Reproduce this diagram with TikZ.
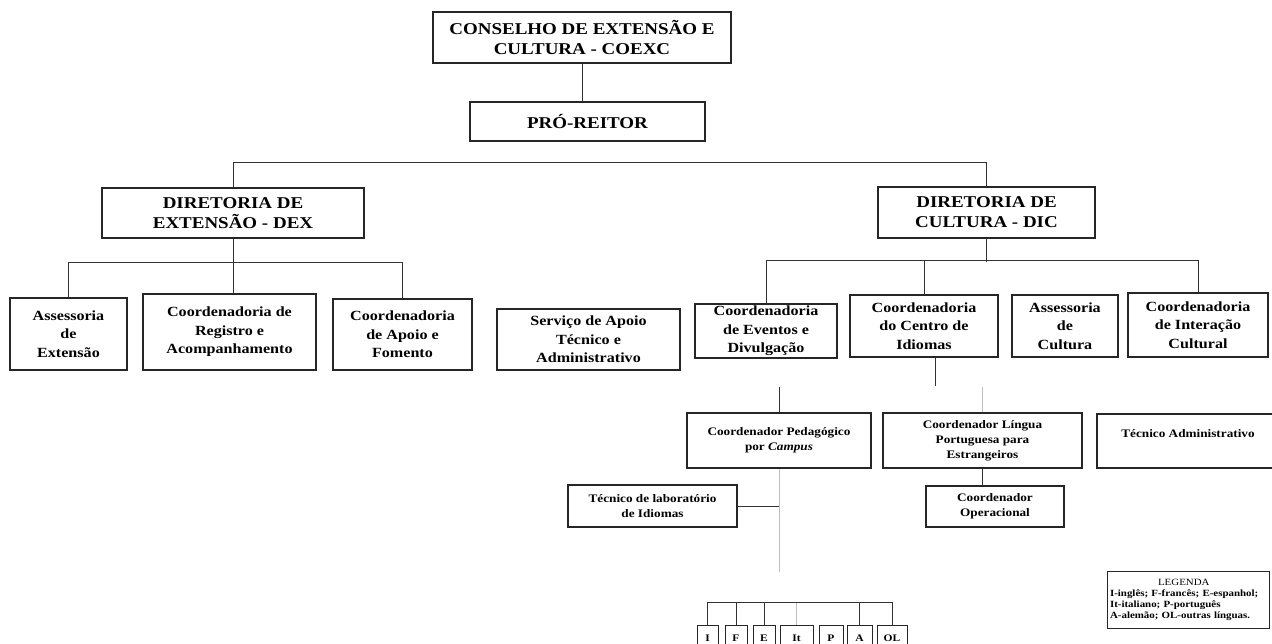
\documentclass[tikz,border=0pt]{standalone}
\usepackage{fontspec}
\setmainfont{Liberation Serif}[FakeStretch=1.15]
\usetikzlibrary{positioning}

\begin{document}
\begin{tikzpicture}[x=1pt, y=-1pt,
  box/.style={rectangle, draw=black!85, line width=1.3pt, align=center, inner sep=0pt},
  headbox/.style={box, font=\fontsize{16.5}{20}\selectfont\bfseries},
  unitbox/.style={box, font=\fontsize{14}{18.5}\selectfont\bfseries},
  subbox/.style={box, line width=1.1pt, font=\fontsize{11.5}{15}\selectfont\bfseries},
  langbox/.style={box, line width=1pt, minimum height=26pt, font=\fontsize{10}{11}\selectfont\bfseries},
  link/.style={draw=black!80, line width=0.9pt},
  faint/.style={draw=black!25, line width=0.9pt},
]
\useasboundingbox (0,0) rectangle (1272,643);

% === Conselho e Pro-reitoria ===
\node[headbox, minimum width=298pt, minimum height=51pt] (coexc) at (582,37.5)
  {CONSELHO DE EXTENSÃO E\\CULTURA - COEXC};
\node[headbox, minimum width=235pt, minimum height=39pt] (pro) at (587.5,121.5) {PRÓ-REITOR};
\draw[link] (coexc.south) -- (coexc.south |- pro.north);

% === Diretorias ===
\node[headbox, minimum width=262pt, minimum height=50pt] (dex) at (233,213)
  {DIRETORIA DE\\EXTENSÃO - DEX};
\node[headbox, minimum width=217pt, minimum height=51pt] (dic) at (986.5,212.5)
  {DIRETORIA DE\\CULTURA - DIC};
\draw[link] (dex.north) -- ++(0,-25) -| (dic.north);

% === Unidades da DEX ===
\node[unitbox, minimum width=117pt, minimum height=72pt] (assext) at (68.5,334)
  {Assessoria\\de\\Extensão};
\node[unitbox, minimum width=173pt, minimum height=76pt] (registro) at (229.5,332)
  {Coordenadoria de\\Registro e\\Acompanhamento};
\node[unitbox, minimum width=139pt, minimum height=71pt] (apoio) at (402.5,334.5)
  {Coordenadoria\\de Apoio e\\Fomento};
\draw[link] (dex.south) -- (dex.south |- registro.north);
\draw[link] (assext.north) -- ++(0,-35) -| (apoio.north);

\node[unitbox, minimum width=183pt, minimum height=61pt] (servico) at (588.5,339.5)
  {Serviço de Apoio\\Técnico e\\Administrativo};

% === Unidades da DIC ===
\node[unitbox, minimum width=142pt, minimum height=54pt] (eventos) at (766,331)
  {Coordenadoria\\de Eventos e\\Divulgação};
\node[unitbox, minimum width=148pt, minimum height=62pt] (idiomas) at (924,326)
  {Coordenadoria\\do Centro de\\Idiomas};
\node[unitbox, minimum width=106pt, minimum height=62pt] (asscult) at (1065,326)
  {Assessoria\\de\\Cultura};
\node[unitbox, minimum width=140pt, minimum height=64pt] (interacao) at (1198,325)
  {Coordenadoria\\de Interação\\Cultural};
\draw[link] (eventos.north) -- ++(0,-43) -| (interacao.north);
\draw[link] (dic.south) -- ++(0,23);
\draw[link] (idiomas.north) -- ++(0,-34);
\draw[link] ([xshift=11pt]idiomas.south) -- ++(0,28);

% === Centro de Idiomas ===
\node[subbox, minimum width=184pt, minimum height=55pt] (pedag) at (779,440.5)
  {Coordenador Pedagógico\\por \textit{Campus}};
\node[subbox, minimum width=199pt, minimum height=55pt] (portug) at (982.5,440.5)
  {Coordenador Língua\\Portuguesa para\\Estrangeiros};
\node[subbox, minimum width=182pt, minimum height=54pt] (tecadm) at (1188,441)
  {Técnico Administrativo\\ \mbox{}};
\draw[link] (pedag.north) -- ++(0,-25);
\draw[faint] (portug.north) -- ++(0,-25);

\node[subbox, minimum width=138pt, minimum height=41pt] (operac) at (995,506.5)
  {Coordenador\\Operacional};
\node[subbox, minimum width=169pt, minimum height=42pt] (lab) at (652.5,506)
  {Técnico de laboratório\\de Idiomas};
\draw[link] (portug.south) -- (portug.south |- operac.north);
\draw[faint] (pedag.south) -- ++(0,103);
\draw[link] (lab.east) -- (lab.east -| pedag.south);

% === Linguas ===
\node[langbox, minimum width=21pt] (lI) at (707.5,638) {I};
\node[langbox, minimum width=22pt] (lF) at (736,638) {F};
\node[langbox, minimum width=22pt] (lE) at (764,638) {E};
\node[langbox, minimum width=33pt] (lIt) at (796.5,638) {It};
\node[langbox, minimum width=24pt] (lP) at (831,638) {P};
\node[langbox, minimum width=25pt] (lA) at (859.5,638) {A};
\node[langbox, minimum width=30pt] (lOL) at (892,638) {OL};
\draw[link] (lI.north) -- ++(0,-22) -| (lOL.north);
\foreach \l in {lF,lE,lA}
  \draw[link] (\l.north) -- ++(0,-22);
\draw[faint] (lIt.north) -- ++(0,-22);

% === Legenda ===
\node[box, line width=1pt, text width=156pt, inner xsep=3pt, minimum height=57pt, align=left,
  font=\fontsize{9.5}{11}\selectfont\bfseries] (legenda) at (1188,599.5)
  {\hspace*{48pt}{\mdseries LEGENDA}\\
   I-inglês; F-francês; E-espanhol;\\
   It-italiano; P-português\\
   A-alemão; OL-outras línguas.};

\end{tikzpicture}
\end{document}
